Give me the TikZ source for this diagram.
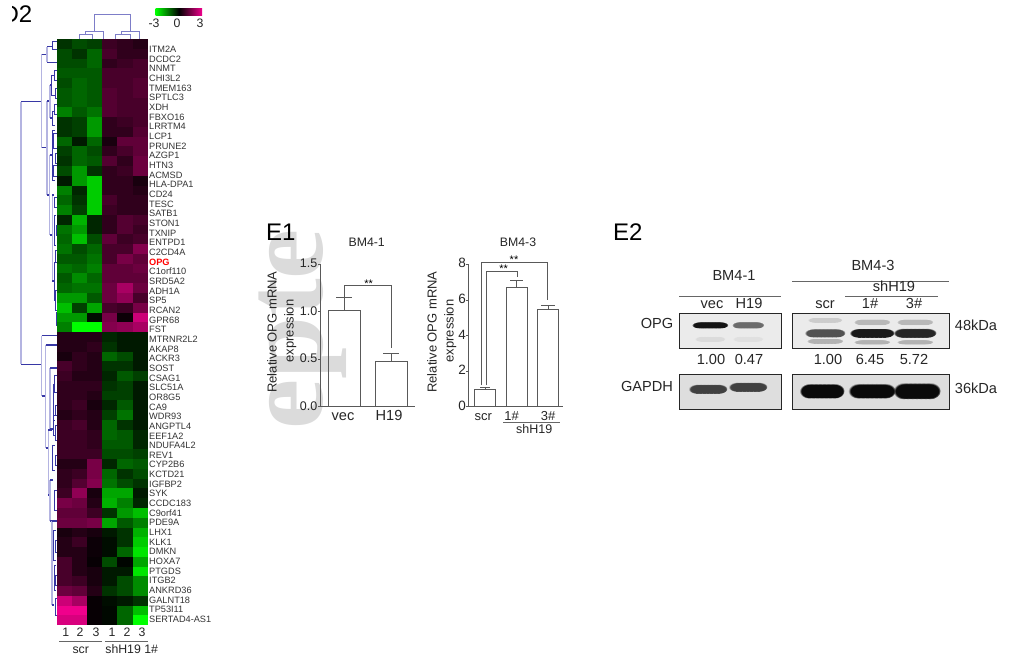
\documentclass[tikz,border=0pt]{standalone}
\usepackage{fontspec}
\setmainfont{Liberation Sans}
\newfontfamily\wmfont{Liberation Serif}
\usetikzlibrary{calc,fadings}
\definecolor{hotm}{RGB}{240,0,140}
\definecolor{dendroD}{RGB}{55,55,165}
\definecolor{dendroL}{RGB}{180,180,225}
\definecolor{dendroT}{RGB}{125,125,200}
\colorlet{axiscol}{black!65}
\tikzstyle{lab}=[inner sep=0pt,text height=.72em,text depth=0pt]
\tikzstyle{gene}=[lab,anchor=west,font=\fontsize{9.2}{10}\selectfont,black!80]
\tikzstyle{hlab}=[lab,font=\fontsize{12.3}{13}\selectfont,black!85]
\tikzstyle{blab}=[lab,font=\fontsize{14.6}{15}\selectfont,black!85]
\tikzstyle{panel}=[lab,font=\fontsize{24}{25}\selectfont]
\tikzstyle{axis}=[line width=.9pt,axiscol]
\tikzstyle{thin rule}=[line width=.8pt,black!60]
\tikzstyle{blotbox}=[line width=1pt,black!85]
\newcommand{\band}[5]{% x, y, width, height, darkness
  \foreach \o in {-.3,-.2,-.1,0,.1,.2,.3}
    \fill[black!#5,path fading=circle with fuzzy edge 20 percent]
      ($(#1,#2)+(\o*#3,0)$) ellipse ({.24*#3} and {.7*#4});
}
\begin{document}
\begin{tikzpicture}[x=1pt,y=-1pt]
  \useasboundingbox (0,0) rectangle (1009,659);

  % WATERMARK
  \node[inner sep=0pt,rotate=90,anchor=base west,gray!28,font=\fontsize{113}{113}\selectfont\wmfont\bfseries] (mark) at (322,430) {epte};

  % PANEL LABELS
  \begin{scope}
    \clip (12,0) rectangle (60,40);
    \node[panel,anchor=west] (D2) at (1.4,19) {D2};
  \end{scope}
  \node[panel,anchor=west] (E1) at (266,237) {E1};
  \node[panel,anchor=west] (E2) at (613,237) {E2};

  % HEATMAP
  \foreach \rowvals [count=\r] in {
    {-2,-3,-2.5,2.5,2,1.5},{-3,-2,-4,3,2,2},{-3,-3,-4,2,2.5,3},{-3.5,-3.5,-3.5,3,3,3},
    {-3,-4,-3.5,3,3,3.5},{-3.5,-4,-3.5,3.5,3,3.5},{-3.5,-4,-3.5,3.5,3,3},{-5,-3.5,-4.5,3.5,3,3},
    {-2,-2.5,-6,2,2.5,3},{-2,-2.5,-6,2,2,3.5},{-4,-1,-4,1,4,4},{-2.5,-4,-3,2,3,4},
    {-2,-4,-3.5,3.5,2,4.5},{-3,-6,-2,2,2.5,4.5},{-1,-6,-8,2,2,1},{-5,-1.5,-8,2,2,1.5},
    {-4,-2,-8,3,2,2},{-5,-2.5,-8,2.5,2,2},{-1.5,-7,-1.5,2,3.5,3},{-4.5,-6,-1.5,2,3.5,2.5},
    {-4,-7.5,-3,4,2.5,3},{-4.5,-3,-4,3,3,5.5},{-3.5,-3.5,-4.5,3,5,4},{-4.5,-4,-5,4,4,4.5},
    {-3.5,-5.5,-4,4,4,4},{-4,-4.5,-4.5,4.5,7,4.5},{-6,-6,-3.5,4.5,6,3},{-7.5,-2.5,-6.5,3,2.5,5},
    {-6,-6,-.5,5,.5,8.5},{-5,-10,-10,5.5,6,7},
    {1.5,1.5,1.5,-1.5,-1,-1},{1.5,1.5,2,-2,-1,-1},{1,2,1.5,-4,-3,-1},{3,2,1.5,-2,-2,-1},
    {2.5,1.5,1.5,-1.5,-3.5,-2.5},{2,2,2,-2,-2.5,-1},{2,2,1.5,-2.5,-2.5,-1},{2,2.5,1,-1.5,-3.5,-1},
    {1.5,2,1.5,-2.5,-4.5,-1},{2.5,3,1.5,-4,-2,-1},{2.5,2.5,2,-4,-3.5,-1.5},{2.5,2.5,2,-3.5,-3.5,-1.5},
    {2.5,2.5,2.5,-3,-3,-2.5},{1.5,1.5,5,-1.5,-4,-3.5},{2,2.5,5,-4,-2,-3},{2,3.5,5.5,-4.5,-3,-2},
    {2.5,6,1,-6.5,-6.5,-1},{5,4.5,1.5,-7,-5,-1.5},{4,4,2.5,-2,-6,-7.5},{4.5,4.5,5,-6.5,-3.5,-5},
    {1,1.5,1,-1,-2,-7},{1.5,2.5,.5,-.5,-2,-8},{1.5,1.5,.5,-.5,-4,-9},{3,1.5,.3,-3,-.2,-6.5},
    {3,1.5,1,-1,-1,-9},{3,2.5,1,-1,-3,-5.5},{4.5,4,1.5,-2,-3,-5.5},{8.5,7,.3,-.5,-1,-2},
    {10,10,.3,-.3,-4,-7.5},{9,9,.3,-.3,-4,-10}}
  {
    \foreach \v [count=\c] in \rowvals {
      \pgfmathsetmacro\pct{abs(\v)*10}
      \ifdim\v pt<0pt \colorlet{cell}{green!\pct!black}\else\colorlet{cell}{hotm!\pct!black}\fi
      \fill[cell] ({57+(\c-1)*15.1},{39+(\r-1)*9.77}) rectangle ++(15.4,10);
    }
  }

  % GENE NAMES
  \foreach \g [count=\r] in {ITM2A,DCDC2,NNMT,CHI3L2,TMEM163,SPTLC3,XDH,FBXO16,LRRTM4,LCP1,
    PRUNE2,AZGP1,HTN3,ACMSD,HLA-DPA1,CD24,TESC,SATB1,STON1,TXNIP,ENTPD1,C2CD4A,
    {\textcolor{red}{\textbf{OPG}}},C1orf110,SRD5A2,ADH1A,SP5,RCAN2,GPR68,FST,
    MTRNR2L2,AKAP8,ACKR3,SOST,CSAG1,SLC51A,OR8G5,CA9,WDR93,ANGPTL4,EEF1A2,NDUFA4L2,
    REV1,CYP2B6,KCTD21,IGFBP2,SYK,CCDC183,C9orf41,PDE9A,LHX1,KLK1,DMKN,HOXA7,PTGDS,
    ITGB2,ANKRD36,GALNT18,TP53I11,SERTAD4-AS1}
    \node[gene] (g\r) at (149,{49+(\r-1)*9.66}) {\g};

  % COLOUR KEY
  \shade[left color=green,right color=hotm,middle color=black] (155.7,8) rectangle (202,15.7);
  \foreach \t/\x [count=\i] in {-3/154,0/177,3/200}
    \node[hlab] (k\i) at (\x,24) {\t};

  % COLUMN LABELS
  \foreach \t/\x [count=\i] in {1/65.7,2/80,3/96,1/112,2/127,3/142}
    \node[hlab] (c\i) at (\x,633) {\t};
  \draw[thin rule] (59,641.7) -- (102,641.7);
  \draw[thin rule] (105,641.7) -- (147.7,641.7);
  \node[hlab] (scrH) at (80.7,649.5) {scr};
  \node[hlab] (shH) at (131.7,649.5) {shH19 1\#};

  % TOP TREE
  \draw[dendroT,line width=.8pt] (94.7,31.7) |- (130.7,14) -- (130.7,31.7);
  \draw[dendroT,line width=.8pt] (85,34) |- (103,31.7) -- (103,39);
  \draw[dendroT,line width=.8pt] (79,39) |- (92.7,34) -- (92.7,39);
  \draw[dendroT,line width=.8pt] (121.7,34.3) |- (139.3,31.7) -- (139.3,39);
  \draw[dendroT,line width=.8pt] (115.7,39) |- (130,34.3) -- (130,39);

  % LEFT TREE
  \foreach \x/\ya/\yb/\xa/\xb in {21/101.7/364.3/41.7/41.7,41.7/54.3/147.7/47/47,
    41.7/335.7/396/57/45.5,45.5/345/448/57/48.3,47/101/195/50/49.5,47/46.7/62.3/52.3/57,
    49.5/155/235/52/52.3,50/85/118/51.7/52,50/368/429/57/53,48.3/430/495/52/50,
    50/480/521/53/57,52/521/605/54/54,52.3/195/281/54/54}
  {
    \draw[dendroL,line width=1.1pt] (\x,\ya) -- (\x,\yb);
    \draw[dendroD,line width=1.5pt] (\x,\ya) -- (\xa,\ya);
    \draw[dendroD,line width=1.5pt] (\x,\yb) -- (\xb,\yb);
  }
  \foreach \x/\ya/\yb/\xa in {52.3/41/49/57,54/70/80/57,51.7/75/95/54.5,55/88/98/57,
    54/104/114/57,52/111/125/54.5,53.5/133/148/57,52/130/180/55,55/153/163/57,53/165/176/57,
    54.5/197/207/57,54/215/245/56,56/225/235/57,55/250/262/57,54/262/300/56,55/290/310/57,
    56/312/325/57,54/375/392/57,53/384/420/55,55/405/415/57,53/415/435/56,55/425/440/57,
    52/445/470/55,55/455/465/57,54/490/510/57,53/530/560/56,55/540/552/57,54/565/590/56,
    55/575/585/57,55/598/615/57}
    \draw[dendroD,line width=.8pt] (\xa,\ya) -| (\x,\yb) -- (\xa,\yb);

  % BAR CHART BM4-1
  \node[hlab] (titleA) at (366.7,243) {BM4-1};
  \draw[axis] (320.7,264) -- (320.7,406.7) -- (415,406.7);
  \foreach \y/\t [count=\i] in {264/1.5,311.7/1.0,359/0.5,406.7/0.0} {
    \draw[axis] (320.7,\y) --++ (-2.5,0);
    \node[blab,anchor=east,font=\fontsize{12.5}{14}\selectfont] (a\i) at (317.5,\y) {\t};
  }
  \draw[axis] (328,406.7) -- (328,310) -- (360,310) -- (360,406.7);
  \draw[axis] (375.3,406.7) -- (375.3,361.7) -- (407.3,361.7) -- (407.3,406.7);
  \draw[axis] (344,310) -- (344,297) (336,297) -- (352,297);
  \draw[axis] (391,361.7) -- (391,353) (383,353) -- (399,353);
  \draw[axis] (344,297) -- (344,285.7) -- (391,285.7) -- (391,348);
  \node[lab,font=\fontsize{11}{11}\selectfont] (starA) at (368.7,284) {**};
  \node[blab] (vec) at (343,417) {vec};
  \node[blab] (H19) at (389,417) {H19};
  \node[lab,rotate=90,font=\fontsize{13}{14}\selectfont,black!85] (yA) at (273,332) {Relative OPG mRNA};
  \node[lab,rotate=90,font=\fontsize{13}{14}\selectfont,black!85] (yB) at (290,331) {expression};

  % BAR CHART BM4-3
  \node[hlab] (titleB) at (518,243) {BM4-3};
  \draw[axis] (468.3,264) -- (468.3,406.7) -- (563,406.7);
  \foreach \y/\t [count=\i] in {264/8,300/6,335.7/4,371/2,406.7/0} {
    \draw[axis] (468.3,\y) --++ (-2.5,0);
    \node[blab,anchor=east,font=\fontsize{13.5}{14}\selectfont] (b\i) at (466,\y) {\t};
  }
  \draw[axis] (474.3,406.7) -- (474.3,389) -- (495.7,389) -- (495.7,406.7);
  \draw[axis] (506,406.7) -- (506,287.3) -- (527.3,287.3) -- (527.3,406.7);
  \draw[axis] (537.3,406.7) -- (537.3,309.3) -- (558.3,309.3) -- (558.3,406.7);
  \draw[axis] (485,389) -- (485,387.3) (480,387.3) -- (490,387.3);
  \draw[axis] (516.6,287.3) -- (516.6,280) (510,280) -- (523,280);
  \draw[axis] (548,309.3) -- (548,305) (541,305) -- (555,305);
  \draw[axis] (481.7,385) -- (481.7,262.3) -- (547.7,262.3) -- (547.7,300);
  \draw[axis] (486.7,385) -- (486.7,271) -- (517.7,271) -- (517.7,277.3);
  \node[lab,font=\fontsize{11}{11}\selectfont] (starB) at (503.7,269) {**};
  \node[lab,font=\fontsize{11}{11}\selectfont] (starC) at (514,260) {**};
  \node[hlab,font=\fontsize{13}{14}\selectfont] (scrB) at (483.3,417) {scr};
  \node[hlab,font=\fontsize{13}{14}\selectfont] (oneB) at (511.7,417) {1\#};
  \node[hlab,font=\fontsize{13}{14}\selectfont] (threeB) at (548,417) {3\#};
  \draw[thin rule] (503,422.3) -- (560,422.3);
  \node[hlab,font=\fontsize{12.5}{13}\selectfont] (shB) at (534.3,430) {shH19};
  \node[lab,rotate=90,font=\fontsize{13}{14}\selectfont,black!85] (yC) at (433,332) {Relative OPG mRNA};
  \node[lab,rotate=90,font=\fontsize{13}{14}\selectfont,black!85] (yD) at (450,331) {expression};

  % BLOTS
  \fill[black!8] (679,313) rectangle (781,348) (792,313) rectangle (949,348);
  \fill[black!13] (679,374) rectangle (781,409) (792,374) rectangle (949,409);
  \band{710}{325}{34}{5}{92}
  \band{748}{325}{30}{5}{58}
  \band{710}{339}{28}{4}{14}
  \band{748}{339}{28}{4}{12}
  \band{825}{320}{32}{4}{20}
  \band{825}{333}{38}{6.5}{68}
  \band{825}{341}{34}{4}{30}
  \band{872}{322}{34}{4.5}{28}
  \band{872}{333}{42}{7}{90}
  \band{872}{342}{34}{3.5}{30}
  \band{915}{322}{34}{4.5}{28}
  \band{915}{333}{40}{7}{85}
  \band{915}{342}{34}{3.5}{30}
  \band{708}{389}{36}{7}{75}
  \band{748}{387}{36}{7}{75}
  \band{822}{391}{42}{11}{96}
  \band{872}{391}{44}{11}{96}
  \band{917}{391}{44}{12}{96}
  \draw[blotbox] (679,313) rectangle (781,348);
  \draw[blotbox] (792,313) rectangle (949,348);
  \draw[blotbox] (679,374) rectangle (781,409);
  \draw[blotbox] (792,374) rectangle (949,409);

  % BLOT LABELS
  \draw[thin rule] (679,296) -- (781,296);
  \draw[thin rule] (792,281) -- (949,281);
  \draw[thin rule] (845,296) -- (938,296);
  \node[blab] (bmA) at (734,277) {BM4-1};
  \node[blab] (bmB) at (873,267) {BM4-3};
  \node[blab] (shC) at (894,288) {shH19};
  \node[blab] (vecB) at (712,305) {vec};
  \node[blab] (hB) at (749,305) {H19};
  \node[blab] (scrC) at (825,305) {scr};
  \node[blab] (oneC) at (870,305) {1\#};
  \node[blab] (threeC) at (914,305) {3\#};
  \node[blab] (opg) at (657,325) {OPG};
  \node[blab] (gapdh) at (647,388) {GAPDH};
  \node[blab] (kdA) at (976,327) {48kDa};
  \node[blab] (kdB) at (976,390) {36kDa};
  \foreach \x/\t [count=\i] in {711/1.00,749/0.47,828/1.00,870/6.45,914/5.72}
    \node[blab] (n\i) at (\x,361) {\t};
\end{tikzpicture}
\end{document}
